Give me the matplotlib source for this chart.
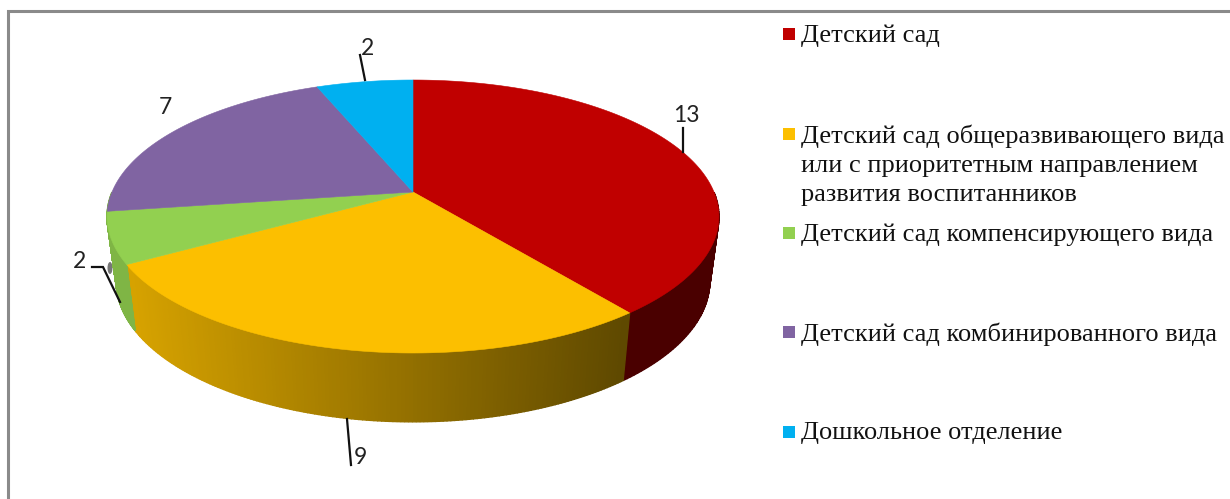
import numpy as np
import matplotlib
matplotlib.use("agg")
import matplotlib.pyplot as plt
from matplotlib.colors import LinearSegmentedColormap
from matplotlib.patches import Ellipse

categories = ['Детский сад',
              'Детский сад общеразвивающего вида\nили с приоритетным направлением\nразвития воспитанников',
              'Детский сад компенсирующего вида',
              'Детский сад комбинированного вида',
              'Дошкольное отделение']
values = [13, 9, 2, 7, 2]
colors = ['#c00000', '#fcbf00', '#92d050', '#8064a2', '#00b0f0']
# the purple side only peeks out at the left edge, there the picture shows green
side_left = ['#4a0000', '#d6a200', '#7fb545', '#7fb545', '#0084b4']
side_right = ['#4a0000', '#5f4900', '#7fb545', '#7fb545', '#0084b4']

# top face: projected circle, apex is off the ellipse centre because of the perspective
x0, y0 = 413, 192
A, B, c = 132.1, 301.0, -0.1795
# bottom rim
xs, ys, yc = 0.97, 1.03, 256


def top_rim(th):
    u, v = np.sin(th), -np.cos(th)
    d = 1 + c * v
    return B * u / d, A * v / d


def rim_xy(th):
    dx, dy = top_rim(th)
    return x0 + dx, y0 + dy


def low_xy(th):
    dx, dy = top_rim(th)
    return x0 + xs * dx, yc + ys * dy


fig = plt.figure(figsize=(12.3, 4.99), dpi=100)
ax = fig.add_axes([0, 0, 1, 1])
ax.set_xlim(0, 1230)
ax.set_ylim(499, 0)
ax.axis('off')

# frame, only top and left are visible
ax.plot([8, 8, 1230], [499, 11, 11], color='#8a8a8a', lw=2.2, solid_joinstyle='miter')

edges = np.cumsum([0] + values) / sum(values) * 2 * np.pi

# sides first, the top faces cover them; back half is skipped
for i in range(len(values)):
    cm = LinearSegmentedColormap.from_list('s', [side_left[i], side_right[i]])
    th = np.linspace(edges[i], edges[i + 1], 160)
    for a, b in zip(th[:-1], th[1:]):
        if np.cos((a + b) / 2) > 0:
            continue
        xa, ya = rim_xy(a)
        xb, yb = rim_xy(b)
        xc, yc2 = low_xy(b)
        xd, yd = low_xy(a)
        col = cm(np.clip(((xa + xb) / 2 - 130) / (625 - 130), 0, 1))
        ax.fill([xa, xb, xc, xd], [ya, yb, yc2, yd], color=col, lw=1.0, zorder=2)

# small smudge left of the green side
ax.add_patch(Ellipse((110, 268), 5, 12, color='#555555', alpha=0.8, lw=0, zorder=1))

for i in range(len(values)):
    th = np.linspace(edges[i], edges[i + 1], 200)
    px, py = rim_xy(th)
    ax.fill(np.r_[x0, px], np.r_[y0, py], color=colors[i], lw=0.4, zorder=3)

# leader lines
leaders = [([683, 683], [128, 152]),
           ([360, 365], [55, 80]),
           ([92, 103, 120], [267, 267, 302]),
           ([347, 351], [419, 465])]
for lx, ly in leaders:
    ax.plot(lx, ly, color='#111111', lw=1.6, zorder=4, solid_joinstyle='miter')

# data labels
label_pos = [(686, 115), (360, 458), (79, 262), (165, 107), (367, 48)]
for val, (lx, ly) in zip(values, label_pos):
    ax.text(lx, ly, str(val), family='Lato', fontsize=16.5, color='#222222',
            ha='center', va='center', zorder=5)

# legend
legend_y = [34, 134, 233, 332, 432]
for name, col, ly in zip(categories, colors, legend_y):
    ax.scatter([789], [ly], marker='s', s=75, color=col, lw=0, zorder=5)
    ax.text(801, ly - 10, name, family='Liberation Serif', fontsize=19, color='#111111',
            ha='left', va='top', linespacing=1.42)

fig.savefig('out.png', dpi=100)
